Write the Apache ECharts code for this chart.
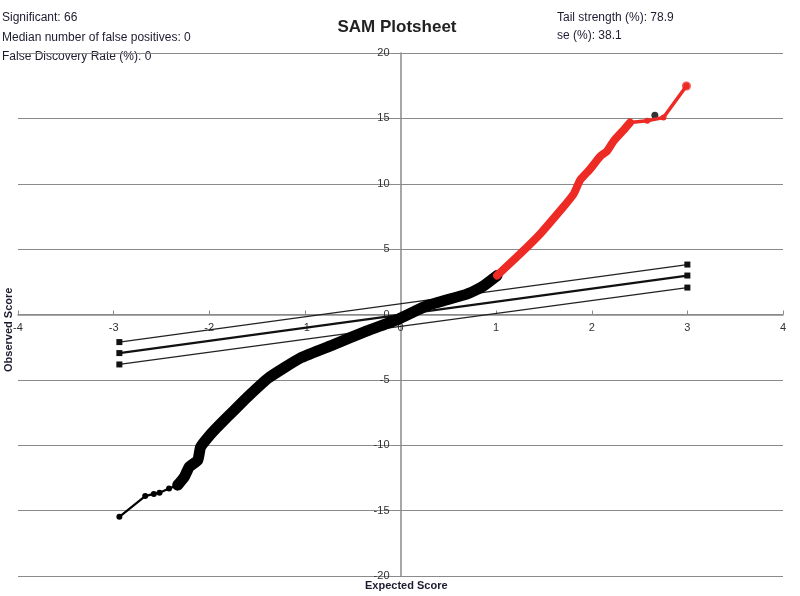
<!DOCTYPE html>
<html>
<head>
<meta charset="utf-8">
<script src="https://cdn.jsdelivr.net/npm/echarts@6/dist/echarts.min.js"></script>
<style>
  html, body { margin: 0; padding: 0; background: #fff; }
  #main { width: 800px; height: 596px; }
</style>
</head>
<body>
<div id="main"></div>
<script>
// x ticks / y ticks
const xTicks = [-4, 4, 1];
const yTicks = [-20, 20, 5];

// observed vs expected, black part (tail with single markers, then the dense band)
const blackTail = [[-2.94, -15.47], [-2.67, -13.89], [-2.58, -13.72], [-2.52, -13.64], [-2.42, -13.31], [-2.33, -13.05]];
const blackBody = [[-2.33, -13.05], [-2.26, -12.42], [-2.21, -11.66], [-2.12, -11.15], [-2.09, -10.13], [-1.98, -9.11],
  [-1.88, -8.34], [-1.74, -7.33], [-1.6, -6.31], [-1.38, -4.85], [-1.04, -3.3], [-0.7, -2.3], [-0.35, -1.25],
  [-0.02, -0.35], [0.28, 0.69], [0.7, 1.58], [0.85, 2.1], [1.01, 2.98]];
// significant genes (red)
const redBody = [[1.01, 2.98], [1.25, 4.63], [1.46, 6.16], [1.67, 7.94], [1.81, 9.21], [1.88, 10.3], [1.98, 11.1],
  [2.09, 12.1], [2.16, 12.5], [2.23, 13.28], [2.32, 14.0], [2.4, 14.68]];
const redTail = [[2.4, 14.68], [2.58, 14.81], [2.75, 15.06], [2.99, 17.48]];
const blackDot = [[2.66, 15.24]];
const greenDot = [[-2.33, -13.05]];

// delta bands
const upperLine = [[-2.94, -2.11], [3.0, 3.82]];
const midLine = [[-2.94, -2.95], [3.0, 2.98]];
const lowerLine = [[-2.94, -3.82], [3.0, 2.06]];

const font = "'Liberation Sans', Arial, sans-serif";
const txt = "#1c1c30";
const W = 800, H = 596;
const G = { left: 18, right: 17, top: 53, bottom: 20 };

const chart = echarts.init(document.getElementById("main"));
chart.setOption({
  animation: false,
  grid: Object.assign({ containLabel: false, outerBoundsMode: "none" }, G),
  title: {
    text: "SAM Plotsheet",
    left: 392, top: 14, textAlign: "center",
    textStyle: { fontFamily: font, fontSize: 17, fontWeight: "bold", color: "#222" }
  },
  graphic: [
    { type: "text", left: 2, top: 12, style: { text: "Significant: 66", font: "12px " + font, fill: txt } },
    { type: "text", left: 2, top: 32, style: { text: "Median number of false positives: 0", font: "12px " + font, fill: txt } },
    { type: "text", left: 2, top: 51, style: { text: "False Discovery Rate (%): 0", font: "12px " + font, fill: txt } },
    { type: "text", left: 557, top: 12, style: { text: "Tail strength (%): 78.9", font: "12px " + font, fill: txt } },
    { type: "text", left: 557, top: 30, style: { text: "se (%): 38.1", font: "12px " + font, fill: txt } },
    { type: "text", left: 365, top: 580, style: { text: "Expected Score", font: "bold 11px " + font, fill: txt } },
    { type: "text", x: 3, y: 372, rotation: Math.PI / 2,
      style: { text: "Observed Score", font: "bold 11px " + font, fill: txt } }
  ],
  xAxis: {
    type: "value", min: xTicks[0], max: xTicks[1], interval: xTicks[2],
    position: "bottom",
    offset: -(H - G.top - G.bottom) / 2,
    axisLine: { onZero: false, lineStyle: { color: "#8a8a8a", width: 1.5 } },
    axisTick: { show: true, inside: true, length: 4, lineStyle: { color: "#8a8a8a" } },
    axisLabel: { fontFamily: font, fontSize: 11, color: "#333", margin: 8 },
    splitLine: { show: false }
  },
  yAxis: {
    type: "value", min: yTicks[0], max: yTicks[1], interval: yTicks[2],
    position: "left",
    offset: -(W - G.left - G.right) / 2,
    axisLine: { onZero: false, lineStyle: { color: "#8a8a8a", width: 1.5 } },
    axisTick: { show: true, length: 4, lineStyle: { color: "#8a8a8a" } },
    axisLabel: { fontFamily: font, fontSize: 11, color: "#333", margin: 11 },
    splitLine: { show: true, lineStyle: { color: "#8a8a8a", width: 1.2 } }
  },
  series: [
    { type: "line", data: upperLine, symbol: "rect", symbolSize: 6, itemStyle: { color: "#111" }, lineStyle: { color: "#222", width: 1.3 } },
    { type: "line", data: midLine, symbol: "rect", symbolSize: 6, itemStyle: { color: "#111" }, lineStyle: { color: "#111", width: 2.2 } },
    { type: "line", data: lowerLine, symbol: "rect", symbolSize: 6, itemStyle: { color: "#111" }, lineStyle: { color: "#222", width: 1.3 } },
    { type: "line", data: blackTail, symbol: "circle", symbolSize: 6, itemStyle: { color: "#000" }, lineStyle: { color: "#000", width: 2.2 } },
    { type: "line", data: blackBody, smooth: 0.15, showSymbol: false, lineStyle: { color: "#000", width: 11, cap: "round", join: "round" } },
    { type: "line", data: redBody, smooth: 0.2, showSymbol: false, lineStyle: { color: "#ee2a24", width: 8, cap: "round", join: "round" } },
    { type: "line", data: redTail, symbol: "circle", symbolSize: 6, itemStyle: { color: "#ee2a24" }, lineStyle: { color: "#ee2a24", width: 3.5 } },
    { type: "scatter", data: [redTail[redTail.length - 1]], symbol: "circle", symbolSize: 9, itemStyle: { color: "#ee2a24" } },
    { type: "scatter", data: blackDot, symbol: "circle", symbolSize: 7, itemStyle: { color: "#000" } },
    { type: "scatter", data: greenDot, symbol: "rect", symbolSize: 8, itemStyle: { color: "#1c9a3c" } }
  ]
});
</script>
</body>
</html>
